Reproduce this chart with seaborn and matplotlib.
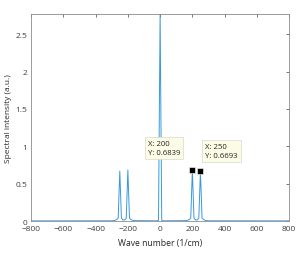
import matplotlib
matplotlib.use("Agg")
import matplotlib.pyplot as plt
import seaborn as sns

# Spectrum samples (wave number in 1/cm, intensity in a.u.)
wave_number = [-800, -300, -290, -280, -270, -260, -250, -240, -230, -220, -210,
               -200, -190, -180, -170, -160, -20, -10, 0, 10, 20,
               160, 170, 180, 190, 200, 210, 220, 230, 240, 250, 260, 270, 280,
               290, 300, 800]
intensity = [0.003, 0.004, 0.006, 0.01, 0.02, 0.04, 0.6693, 0.04, 0.015, 0.015, 0.04,
             0.6839, 0.04, 0.02, 0.01, 0.006, 0.004, 0.01, 2.77, 0.01, 0.004,
             0.006, 0.01, 0.02, 0.04, 0.6839, 0.04, 0.015, 0.015, 0.04, 0.6693, 0.04,
             0.02, 0.01, 0.006, 0.004, 0.003]

# Data tips shown on the chart
tip_x = [200, 250]
tip_y = [0.6839, 0.6693]
tip_anchor_x = [-76, 280]
tip_anchor_y = [1.085, 1.05]

x_ticks = [-800, -600, -400, -200, 0, 200, 400, 600, 800]
y_ticks = [0, 0.5, 1, 1.5, 2, 2.5]
y_tick_labels = ["0", "0.5", "1", "1.5", "2", "2.5"]

sns.set_style("white")
plt.rcParams["font.family"] = ["Open Sans", "DejaVu Sans"]

fig = plt.figure(figsize=(2.99, 2.55), dpi=100)
ax = fig.add_axes([0.104, 0.129, 0.863, 0.812])

sns.lineplot(x=wave_number, y=intensity, ax=ax, color="#3b97dc", linewidth=0.7)

# Data tip markers and boxes
ax.plot(tip_x, tip_y, linestyle="none", marker="s", markersize=3.8,
        color="black", markeredgecolor="white", markeredgewidth=0.4, zorder=5)
for tx, ty, ax_x, ax_y in zip(tip_x, tip_y, tip_anchor_x, tip_anchor_y):
    ax.text(ax_x, ax_y, f"X: {tx}\nY: {ty:.4f}", ha="left", va="top",
            fontsize=5.6, color="#262626", linespacing=1.45, zorder=6,
            bbox=dict(boxstyle="square,pad=0.4", facecolor="#fbfbe6",
                      edgecolor="#d9d9d0", linewidth=0.5))

ax.set_xlim(-800, 800)
ax.set_ylim(0, 2.77)
ax.set_xticks(x_ticks)
ax.set_yticks(y_ticks)
ax.set_yticklabels(y_tick_labels)
ax.set_xlabel("Wave number (1/cm)", fontsize=6.2, color="#262626", labelpad=4)
ax.set_ylabel("Spectral intensity (a.u.)", fontsize=6, color="#262626", labelpad=2)

ax.tick_params(direction="in", length=2.2, width=0.5, labelsize=6,
               colors="#404040", top=True, right=True, pad=3)
for spine in ax.spines.values():
    spine.set_color("#8c8c8c")
    spine.set_linewidth(0.6)

fig.savefig("out.png", dpi=100)
